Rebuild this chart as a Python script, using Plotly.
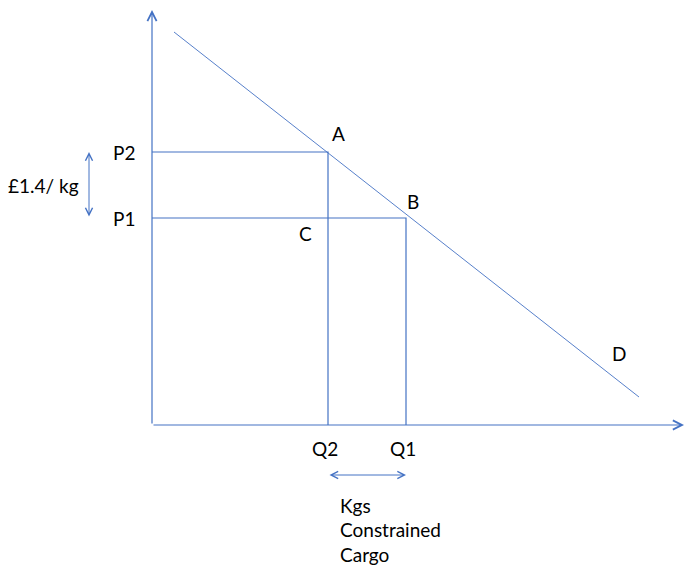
import plotly.graph_objects as go

# demand curve end points (quantity, price)
demand_q = [22, 487]
demand_p = [393, 28]

# the two price / quantity combinations
q_labels = ["Q2", "Q1"]
q_values = [176, 254]
p_labels = ["P2", "P1"]
p_values = [273, 207]

point_labels = ["A", "B", "C", "D"]

# axis extents
x_max = 532
y_max = 415

blue = "#4472C4"
font = dict(family="Lato, Open Sans, sans-serif", size=19, color="#000000")

fig = go.Figure()

# demand line
fig.add_trace(go.Scatter(x=demand_q, y=demand_p, mode="lines",
                         line=dict(color=blue, width=0.9), hoverinfo="skip"))

# drop lines for each price / quantity pair
for q, p in zip(q_values, p_values):
    fig.add_trace(go.Scatter(x=[0, q, q], y=[p, p, 0], mode="lines",
                             line=dict(color=blue, width=1.2), hoverinfo="skip"))

annotations = []

# axes drawn as arrows
annotations.append(dict(x=0, y=y_max, ax=0, ay=0, xref="x", yref="y", axref="x", ayref="y",
                        text="", showarrow=True, arrowhead=5, arrowsize=1.5,
                        arrowwidth=1.2, arrowcolor=blue))
annotations.append(dict(x=x_max, y=0, ax=0, ay=0, xref="x", yref="y", axref="x", ayref="y",
                        text="", showarrow=True, arrowhead=5, arrowsize=1.5,
                        arrowwidth=1.2, arrowcolor=blue))

# price and quantity labels
for lab, p in zip(p_labels, p_values):
    annotations.append(dict(x=0, y=p, xref="x", yref="y", text=lab, showarrow=False,
                            xshift=-28, font=font))
for lab, q in zip(q_labels, q_values):
    annotations.append(dict(x=q, y=0, xref="x", yref="y", text=lab, showarrow=False,
                            xshift=-3, yshift=-23, font=font))

# point labels
q2, q1 = q_values
p2, p1 = p_values
label_pos = [(q2, p2, 10, 19), (q1, p1, 7, 17), (q2, p1, -23, -15), (467, 72, 0, 0)]
for lab, (x, y, dx, dy) in zip(point_labels, label_pos):
    annotations.append(dict(x=x, y=y, xref="x", yref="y", text=lab, showarrow=False,
                            xshift=dx, yshift=dy, font=font))

# price gap double arrow
annotations.append(dict(x=-63, y=p2, ax=-63, ay=p1, xref="x", yref="y", axref="x", ayref="y",
                        text="", showarrow=True, arrowhead=5, startarrowhead=5,
                        arrowside="end+start", arrowsize=1.4, startarrowsize=1.4,
                        arrowwidth=1, arrowcolor=blue))
annotations.append(dict(x=-63, y=(p1 + p2) / 2, xref="x", yref="y", text="£1.4/ kg",
                        showarrow=False, xanchor="right", xshift=-8, font=font))

# quantity gap double arrow
annotations.append(dict(x=q1, y=-50, ax=q2, ay=-50, xref="x", yref="y", axref="x", ayref="y",
                        text="", showarrow=True, arrowhead=5, startarrowhead=5,
                        arrowside="end+start", arrowsize=1.4, startarrowsize=1.4,
                        arrowwidth=1, arrowcolor=blue))
for i, line in enumerate(["Kgs", "Constrained", "Cargo"]):
    annotations.append(dict(x=q2 + 10, y=-80 - 24.5 * i, xref="x", yref="y", text=line,
                            showarrow=False, xanchor="left", font=font))

fig.update_layout(
    width=684, height=567,
    margin=dict(l=0, r=0, t=10, b=0),
    paper_bgcolor="white", plot_bgcolor="white",
    showlegend=False,
    annotations=annotations,
    xaxis=dict(range=[-152, x_max], visible=False, fixedrange=True),
    yaxis=dict(range=[-142, y_max], visible=False, fixedrange=True),
)

fig.write_html("out.html", config={"displayModeBar": False},
               post_script="document.body.style.margin = '0';")
